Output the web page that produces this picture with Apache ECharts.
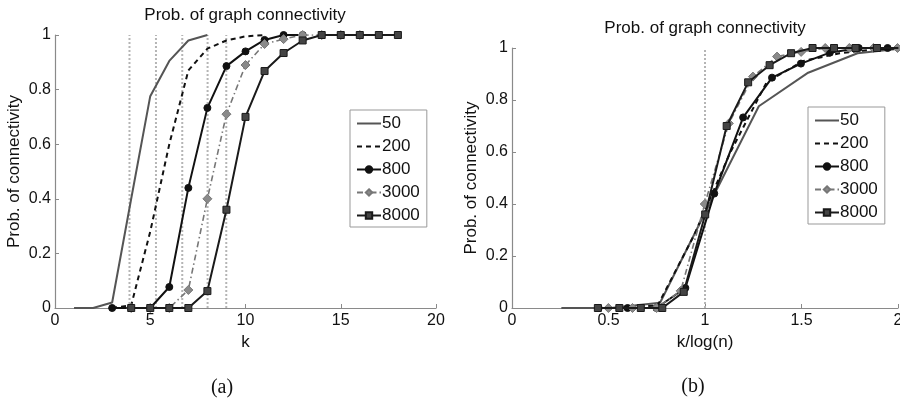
<!DOCTYPE html>
<html>
<head>
<meta charset="utf-8">
<script src="https://cdn.jsdelivr.net/npm/echarts@6/dist/echarts.min.js"></script>
<style>
  html, body { margin: 0; padding: 0; background: #fff; }
  #chart { width: 900px; height: 398px; }
</style>
</head>
<body>
<div id="chart"></div>
<script>
// network sizes n (legend entries)
const sizes = ['50', '200', '800', '3000', '8000'];
// log(n) for each size, the dotted lines in (a)
const logN = [3.91, 5.30, 6.68, 8.01, 8.99];

// k and prob. of connectivity, one pair per size
const k50 = [1, 2, 3, 4, 5, 6, 7, 8];
const p50 = [0, 0, 0.02, 0.40, 0.776, 0.905, 0.98, 1];
const k200 = [3, 4, 5, 6, 7, 8, 9, 10, 11];
const p200 = [0, 0.01, 0.28, 0.60, 0.87, 0.95, 0.98, 0.995, 1];
const k800 = [3, 4, 5, 6, 7, 8, 9, 10, 11, 12, 13];
const p800 = [0, 0, 0, 0.077, 0.44, 0.733, 0.886, 0.94, 0.982, 1, 1];
const k3000 = [4, 5, 6, 7, 8, 9, 10, 11, 12, 13, 14, 15, 16];
const p3000 = [0, 0, 0, 0.066, 0.40, 0.71, 0.89, 0.967, 0.985, 1, 1, 1, 1];
const k8000 = [4, 5, 6, 7, 8, 9, 10, 11, 12, 13, 14, 15, 16, 17, 18];
const p8000 = [0, 0, 0, 0, 0.062, 0.36, 0.70, 0.868, 0.934, 0.98, 1, 1, 1, 1, 1];

const kLists = [k50, k200, k800, k3000, k8000];
const pLists = [p50, p200, p800, p3000, p8000];

// tick labels
const kTicks = ['0', '5', '10', '15', '20'];
const ratioTicks = ['0', '0.5', '1', '1.5', '2'];
const probTicks = ['0', '0.2', '0.4', '0.6', '0.8', '1'];

const FONT = 'Liberation Sans, Arial, sans-serif';
const INK = '#111';
const AXIS = '#8a8a8a';

// line look per size
const looks = [
  { color: '#555', type: 'solid', width: 2, symbol: 'none', size: 0, fill: '#555' },
  { color: '#111', type: [5, 4], width: 2, symbol: 'none', size: 0, fill: '#111' },
  { color: '#111', type: 'solid', width: 2, symbol: 'circle', size: 7, fill: '#111' },
  { color: '#777', type: [6, 3, 1.5, 3], width: 1.6, symbol: 'diamond', size: 9, fill: '#8a8a8a' },
  { color: '#1a1a1a', type: 'solid', width: 2, symbol: 'rect', size: 7, fill: '#444' }
];

function dataSeries(i, axisIdx, byLog) {
  const lk = looks[i];
  return {
    name: sizes[i],
    type: 'line',
    xAxisIndex: axisIdx,
    yAxisIndex: axisIdx,
    data: kLists[i].map((k, j) => [byLog ? k / logN[i] : k, pLists[i][j]]),
    symbol: lk.symbol,
    symbolSize: lk.size,
    showSymbol: lk.symbol !== 'none',
    lineStyle: { color: lk.color, type: lk.type, width: lk.width },
    itemStyle: { color: lk.fill, borderColor: lk.color, borderWidth: 1 },
    color: lk.color,
    animation: false,
    z: 3 + i
  };
}

function dottedLine(x, axisIdx) {
  return {
    type: 'line',
    xAxisIndex: axisIdx,
    yAxisIndex: axisIdx,
    data: [[x, 0], [x, 1]],
    symbol: 'none',
    silent: true,
    animation: false,
    lineStyle: { color: '#b5b5b5', width: 2, type: [2, 2] },
    z: 1
  };
}

function xAxis(idx, max, interval, name, ticks) {
  return {
    gridIndex: idx, type: 'value', min: 0, max: max, interval: interval,
    name: name, nameLocation: 'middle', nameGap: 14,
    nameTextStyle: { color: INK, fontSize: 17, fontFamily: FONT },
    axisLine: { lineStyle: { color: AXIS, width: 1.2 } },
    axisTick: { inside: true, length: 4, lineStyle: { color: AXIS } },
    axisLabel: {
      color: INK, fontSize: 16, fontFamily: FONT, margin: 5,
      formatter: v => ticks[Math.round(v / interval)]
    },
    splitLine: { show: false }
  };
}

function yAxis(idx) {
  return {
    gridIndex: idx, type: 'value', min: 0, max: 1, interval: 0.2,
    name: 'Prob. of connectivity', nameLocation: 'middle', nameGap: 32,
    nameTextStyle: { color: INK, fontSize: 17, fontFamily: FONT },
    axisLine: { show: true, lineStyle: { color: AXIS, width: 1.2 } },
    axisTick: { show: true, inside: true, length: 4, lineStyle: { color: AXIS } },
    axisLabel: {
      color: INK, fontSize: 16, fontFamily: FONT, margin: 4,
      formatter: v => probTicks[Math.round(v / 0.2)]
    },
    splitLine: { show: false }
  };
}

function legend(left, top) {
  return {
    // plain lines carry no marker in the key
    data: sizes.map((s, i) => looks[i].symbol === 'none'
      ? { name: s, itemStyle: { opacity: 0 } }
      : { name: s }),
    orient: 'vertical',
    left: left, top: top,
    padding: [5, 7, 3, 6],
    borderColor: '#999', borderWidth: 1,
    itemWidth: 24, itemHeight: 8, itemGap: 6,
    textStyle: { color: INK, fontSize: 17, fontFamily: FONT, padding: [0, 0, 0, -4] },
    selectedMode: false
  };
}

const chart = echarts.init(document.getElementById('chart'), null, { renderer: 'canvas' });

const series = [];
logN.forEach(x => series.push(dottedLine(x, 0)));
series.push(dottedLine(1, 1));
sizes.forEach((s, i) => series.push(dataSeries(i, 0, false)));
sizes.forEach((s, i) => series.push(dataSeries(i, 1, true)));

chart.setOption({
  backgroundColor: '#fff',
  animation: false,
  textStyle: { fontFamily: FONT },
  title: [
    { text: 'Prob. of graph connectivity', left: 245, top: 7, textAlign: 'center', padding: 0,
      textStyle: { color: INK, fontSize: 17, fontWeight: 'normal', fontFamily: FONT } },
    { text: 'Prob. of graph connectivity', left: 705, top: 20, textAlign: 'center', padding: 0,
      textStyle: { color: INK, fontSize: 17, fontWeight: 'normal', fontFamily: FONT } },
    { text: '(a)', left: 222, top: 378, textAlign: 'center', padding: 0,
      textStyle: { color: INK, fontSize: 20, fontWeight: 'normal', fontFamily: 'Liberation Serif, serif' } },
    { text: '(b)', left: 693, top: 377, textAlign: 'center', padding: 0,
      textStyle: { color: INK, fontSize: 20, fontWeight: 'normal', fontFamily: 'Liberation Serif, serif' } }
  ],
  grid: [
    { left: 55, top: 35, width: 381, height: 273, outerBoundsMode: 'none' },
    { left: 512, top: 48, width: 386, height: 260, outerBoundsMode: 'none' }
  ],
  legend: [legend(350, 110), legend(808, 107)],
  xAxis: [xAxis(0, 20, 5, 'k', kTicks), xAxis(1, 2, 0.5, 'k/log(n)', ratioTicks)],
  yAxis: [yAxis(0), yAxis(1)],
  series: series
});
</script>
</body>
</html>
